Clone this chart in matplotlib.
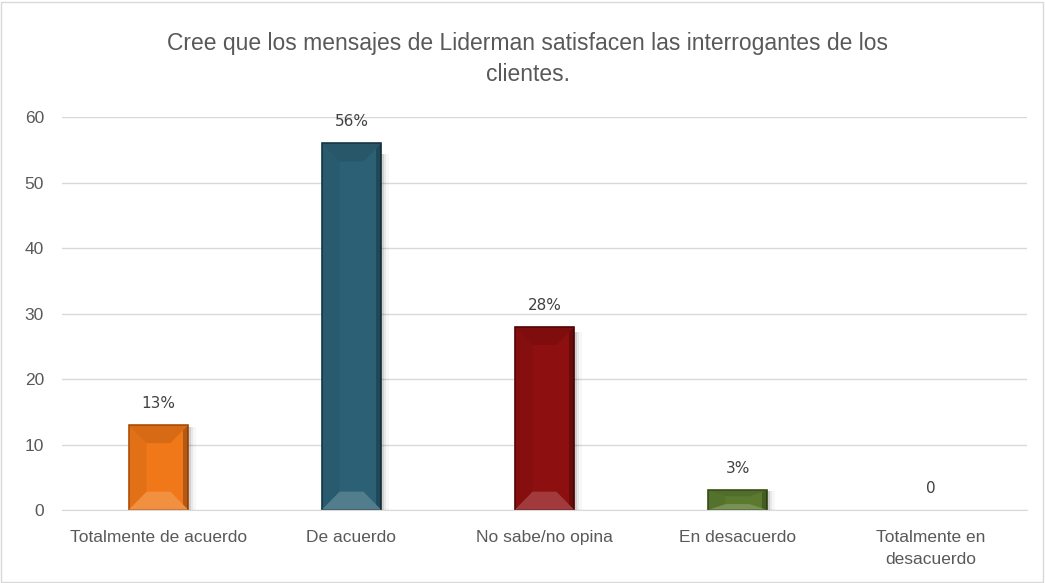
import matplotlib
matplotlib.use("Agg")
import matplotlib.pyplot as plt
from matplotlib.patches import Polygon, Rectangle
import numpy as np

categories = ["Totalmente de acuerdo", "De acuerdo", "No sabe/no opina",
              "En desacuerdo", "Totalmente en\ndesacuerdo"]
values = [13, 56, 28, 3, 0]
labels = ["13%", "56%", "28%", "3%", "0"]
colors = ["#F07818", "#2C6175", "#8E0F10", "#5B7A2F", "#888888"]
edge_colors = ["#B8520A", "#163A47", "#5A0506", "#3A5219", "none"]
title = "Cree que los mensajes de Liderman satisfacen las interrogantes de los\nclientes."

plt.rcParams['font.family'] = ['Liberation Sans', 'DejaVu Sans']

fig = plt.figure(figsize=(10.45, 5.83), dpi=100)
fig.patch.set_facecolor("white")
fig.add_artist(Rectangle((0.001, 0.002), 0.997, 0.995, transform=fig.transFigure,
                         fill=False, edgecolor="#D9D9D9", linewidth=1))

ax = fig.add_axes([0.0593, 0.1252, 0.9235, 0.6741])
x = np.arange(len(categories))
width = 0.31
lw = [1.2 if v > 0 else 0 for v in values]
bars = ax.bar(x, values, width=width, color=colors, edgecolor=edge_colors,
              linewidth=lw, zorder=3)

for b, c, v in zip(bars, colors, values):
    h = b.get_height()
    if h <= 0:
        b.set_visible(False)
        continue
    x0, w = b.get_x(), b.get_width()
    y0 = b.get_y()
    bx = w * 0.3
    by = min(h * 0.3, 2.8)
    for k, a in enumerate([0.10, 0.06, 0.03]):
        ax.add_patch(Rectangle((x0 + w, y0), w * 0.04 * (k + 1), h * 0.97,
                               color="#000000", alpha=a, zorder=2, linewidth=0))
    top = Polygon([(x0, y0 + h), (x0 + w, y0 + h), (x0 + w - bx, y0 + h - by),
                   (x0 + bx, y0 + h - by)], closed=True, facecolor="black",
                  alpha=0.10, zorder=4, linewidth=0)
    bot = Polygon([(x0, y0), (x0 + w, y0), (x0 + w - bx, y0 + by),
                   (x0 + bx, y0 + by)], closed=True, facecolor="white",
                  alpha=0.18, zorder=4, linewidth=0)
    left = Polygon([(x0, y0), (x0, y0 + h), (x0 + bx, y0 + h - by),
                    (x0 + bx, y0 + by)], closed=True, facecolor="black",
                   alpha=0.06, zorder=4, linewidth=0)
    right = Polygon([(x0 + w, y0), (x0 + w, y0 + h), (x0 + w - bx * 0.3, y0 + h - by * 0.3),
                     (x0 + w - bx * 0.3, y0 + by * 0.3)], closed=True, facecolor="black",
                    alpha=0.25, zorder=4, linewidth=0)
    for p in (top, bot, left, right):
        ax.add_patch(p)

for xi, v, lab in zip(x, values, labels):
    ax.annotate(lab, (xi, v), xytext=(0, 10), textcoords="offset points",
                ha="center", va="bottom", fontsize=11, color="#404040",
                family=["DejaVu Sans"])

ax.set_xlim(-0.5, len(categories) - 0.5)
ax.set_ylim(0, 60)
ax.set_yticks(range(0, 61, 10))
ax.set_xticks(x)
ax.set_xticklabels(categories, fontsize=12.5, color="#595959", linespacing=1.55)
ax.tick_params(axis="y", labelsize=12.5, labelcolor="#595959", length=0, pad=13)
ax.tick_params(axis="x", length=0, pad=14.5)
ax.grid(axis="y", color="#D9D9D9", linewidth=1, zorder=0)
for s in ["top", "right", "left"]:
    ax.spines[s].set_visible(False)
ax.spines["bottom"].set_color("#D9D9D9")

fig.text(0.505, 0.945, title, ha="center", va="top", fontsize=16.5, color="#595959",
         linespacing=1.45)

fig.savefig("out.png", dpi=100)
